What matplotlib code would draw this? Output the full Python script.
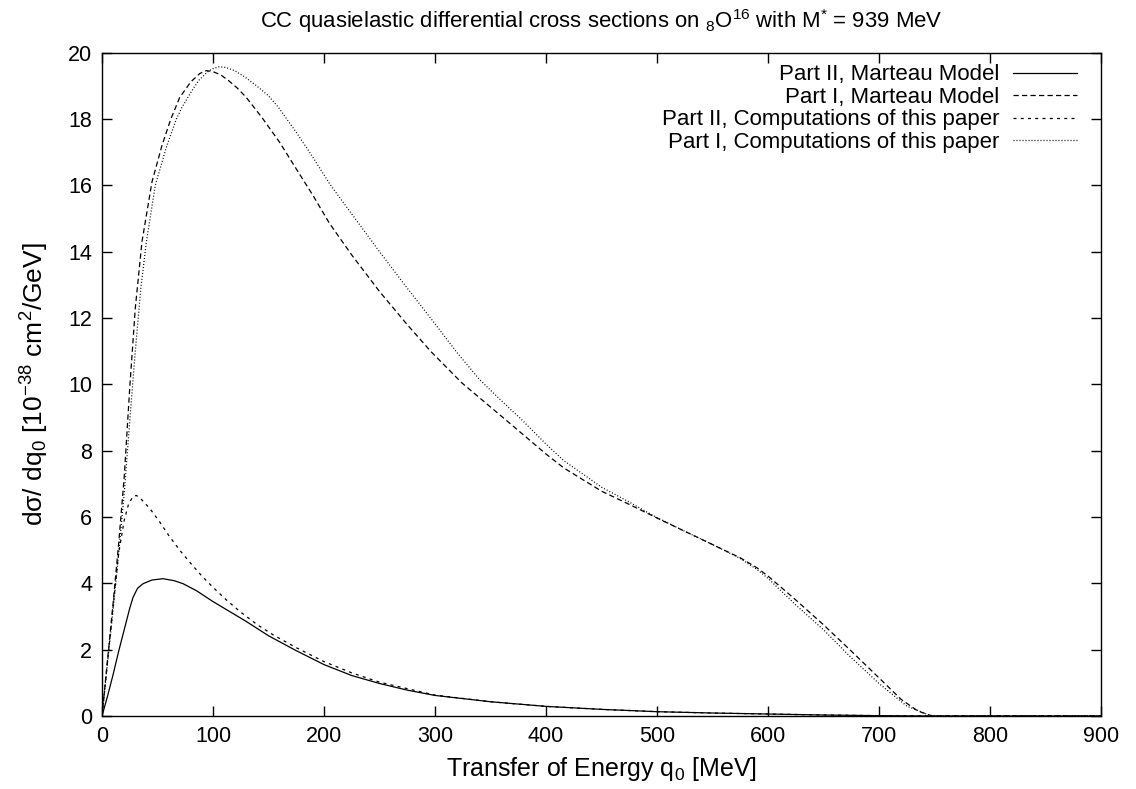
import matplotlib
matplotlib.use("Agg")
import matplotlib.pyplot as plt
import numpy as np

plt.rcParams['font.family'] = ['Liberation Sans', 'DejaVu Sans']
plt.rcParams['mathtext.fontset'] = 'custom'
plt.rcParams['mathtext.rm'] = 'Liberation Sans'
plt.rcParams['mathtext.it'] = 'Liberation Sans:italic'
plt.rcParams['axes.unicode_minus'] = False

# Part II, Marteau Model (solid)
q_m2 = [0, 5, 10, 15, 20, 25, 28, 32, 37, 45, 55, 65, 73, 85, 100, 115, 130, 150, 175, 200,
        225, 250, 275, 300, 350, 400, 450, 500, 550, 600, 650, 700, 750, 800, 900]
v_m2 = [0, 0.6, 1.25, 1.95, 2.6, 3.25, 3.58, 3.85, 3.99, 4.1, 4.14, 4.08, 3.99, 3.78, 3.45, 3.15, 2.85,
        2.42, 1.97, 1.55, 1.22, 0.98, 0.78, 0.62, 0.43, 0.29, 0.2, 0.13, 0.09, 0.06, 0.03, 0.01, 0, 0, 0]

# Part I, Marteau Model (long dashes)
q_m1 = [0, 5, 10, 15, 20, 25, 30, 36, 45, 54, 62, 70, 80, 88, 94, 100, 107, 114, 122, 130, 144,
        160, 174, 190, 205, 225, 250, 275, 296, 324, 363, 400, 416, 450, 475, 500, 525, 550, 575,
        590, 600, 625, 650, 674, 700, 720, 735, 748, 800, 900]
v_m1 = [0, 1.7, 3.4, 5.2, 7.2, 9.9, 12.3, 14.3, 16.1, 17.2, 18.0, 18.65, 19.12, 19.37, 19.46, 19.43,
        19.33, 19.16, 18.93, 18.65, 18.05, 17.3, 16.55, 15.7, 14.85, 13.9, 12.8, 11.8, 11.0, 10.05,
        8.95, 7.9, 7.48, 6.78, 6.38, 5.97, 5.57, 5.17, 4.77, 4.47, 4.22, 3.5, 2.75, 1.99, 1.15, 0.5,
        0.15, 0, 0, 0]

# Part II, Computations of this paper (short dashes)
q_c2 = [0, 5, 10, 15, 20, 24, 28, 31, 35, 43, 52, 60, 70, 80, 90, 100, 112, 125, 140, 154, 175,
        200, 225, 250, 300, 350, 400, 450, 500, 550, 600, 650, 700, 750, 800, 900]
v_c2 = [0, 1.65, 3.3, 4.9, 5.9, 6.4, 6.62, 6.65, 6.55, 6.26, 5.85, 5.45, 5.0, 4.6, 4.22, 3.88, 3.5,
        3.13, 2.75, 2.45, 2.06, 1.64, 1.3, 1.02, 0.63, 0.43, 0.29, 0.2, 0.13, 0.09, 0.06, 0.03, 0.01,
        0, 0, 0]

# Part I, Computations of this paper (dotted)
q_c1 = [0, 5, 10, 15, 20, 25, 30, 35, 40, 48, 58, 67, 72, 80, 87, 95, 100, 106, 112, 120, 129, 140,
        150, 159, 175, 189, 205, 217, 250, 275, 296, 320, 340, 360, 377, 400, 416, 450, 475, 500,
        525, 550, 575, 590, 600, 625, 650, 674, 700, 725, 745, 750, 800, 900]
v_c1 = [0, 1.6, 3.2, 4.9, 6.7, 8.9, 11.0, 12.9, 14.3, 16.0, 17.15, 18.0, 18.35, 18.8, 19.16, 19.42,
        19.52, 19.58, 19.55, 19.45, 19.26, 18.98, 18.7, 18.35, 17.6, 16.9, 16.05, 15.5, 14.0, 12.9,
        12.0, 10.95, 10.15, 9.5, 8.97, 8.2, 7.7, 6.9, 6.45, 5.98, 5.57, 5.17, 4.75, 4.42, 4.15, 3.35,
        2.6, 1.79, 0.98, 0.3, 0.03, 0, 0, 0]

labels = ["Part II, Marteau Model", "Part I, Marteau Model",
          "Part II, Computations of this paper", "Part I, Computations of this paper"]

fig = plt.figure(figsize=(11.36, 7.89), dpi=100)
ax = fig.add_axes([102/1136, 1-716/789, 999/1136, (716-52.7)/789])

lw = 0.9
ax.plot(q_m2, v_m2, color='black', lw=lw, linestyle='-', label=labels[0])
ax.plot(q_m1, v_m1, color='black', lw=lw, linestyle=(0, (4.2, 2.6)), label=labels[1])
ax.plot(q_c2, v_c2, color='black', lw=lw, linestyle=(0, (2.4, 3.4)), label=labels[2])
ax.plot(q_c1, v_c1, color='black', lw=lw, linestyle=(0, (0.8, 1.6)), label=labels[3])

ax.set_xlim(0, 900)
ax.set_ylim(0, 20)
ax.set_xticks(np.arange(0, 901, 100))
ax.set_yticks(np.arange(0, 21, 2))
ax.tick_params(direction='in', length=7, width=1, top=True, right=True, labelsize=15.5, pad=7)
for s in ax.spines.values():
    s.set_linewidth(1)

ax.set_title(r"CC quasielastic differential cross sections on $_{8}\mathrm{O}^{16}$ with $\mathrm{M}^{*}$ = 939 MeV",
             fontsize=15.9, pad=18)
ax.set_xlabel(r"Transfer of Energy q$_{0}$ [MeV]", fontsize=18, labelpad=6)
ax.set_ylabel(r"dσ/ dq$_{0}$ [10$^{\mathrm{-38}}$ cm$^{2}$/GeV]", fontsize=19, labelpad=12)

leg = ax.legend(loc='upper right', bbox_to_anchor=(0.976, 0.9825), frameon=False, markerfirst=False,
                fontsize=16, handlelength=2.9, handletextpad=0.6, labelspacing=0.07, borderpad=0,
                borderaxespad=0)

fig.savefig("out.png", dpi=100)
